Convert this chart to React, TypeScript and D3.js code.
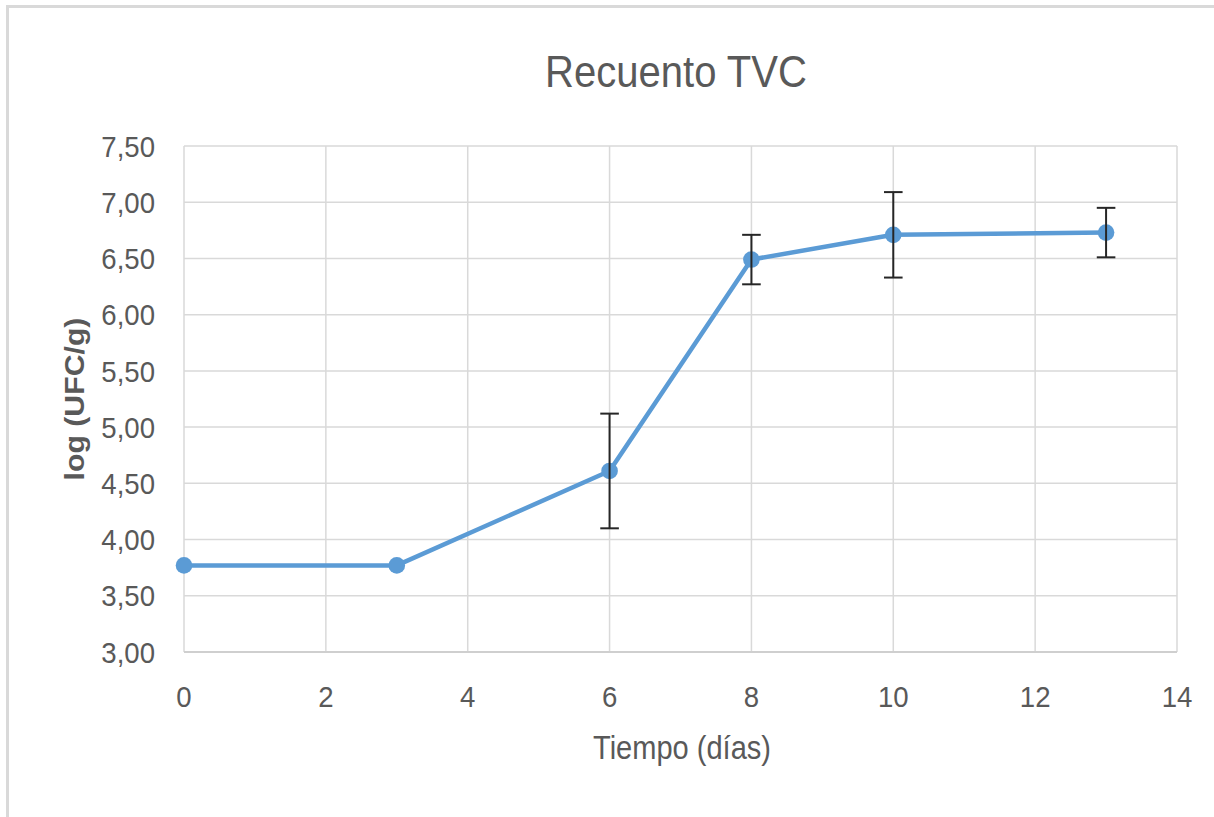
import { useRef, useEffect } from "react";
import * as d3 from "d3";

// Recuento TVC: log (UFC/g) vs days
const days = [0, 3, 6, 8, 10, 13];
const logUfc = [3.77, 3.77, 4.61, 6.49, 6.71, 6.73];
const errUfc = [0, 0, 0.51, 0.22, 0.38, 0.22];
const xTicks = [0, 2, 4, 6, 8, 10, 12, 14];
const yTicks = [3.0, 3.5, 4.0, 4.5, 5.0, 5.5, 6.0, 6.5, 7.0, 7.5];

const FONT = '"Liberation Sans", Arial, sans-serif';
const GREY_TEXT = "#595959";
const LINE_BLUE = "#5b9bd5";

export default function App() {
  const svgRef = useRef<SVGSVGElement>(null);

  useEffect(() => {
    if (!svgRef.current) return;
    const svg = d3.select(svgRef.current);
    svg.selectAll("*").remove();

    const width = 1214;
    const height = 817;
    const plot = { left: 184, right: 1177, top: 146, bottom: 652 };

    const x = d3.scaleLinear().domain([0, 14]).range([plot.left, plot.right]);
    const y = d3.scaleLinear().domain([3, 7.5]).range([plot.bottom, plot.top]);

    svg.attr("viewBox", `0 0 ${width} ${height}`);

    svg
      .append("rect")
      .attr("width", width)
      .attr("height", height)
      .attr("fill", "#fff");

    // outer chart frame (runs off the right / bottom edges)
    svg
      .append("rect")
      .attr("x", 7.5)
      .attr("y", 6.5)
      .attr("width", width + 20)
      .attr("height", height + 20)
      .attr("fill", "none")
      .attr("stroke", "#d9d9d9")
      .attr("stroke-width", 3);

    // grid
    const grid = svg.append("g");
    grid
      .selectAll("line.h")
      .data(yTicks)
      .join("line")
      .attr("class", "h")
      .attr("x1", plot.left)
      .attr("x2", plot.right)
      .attr("y1", (d) => y(d))
      .attr("y2", (d) => y(d))
      .attr("stroke", "#d9d9d9")
      .attr("stroke-width", 1.5);
    grid
      .selectAll("line.v")
      .data(xTicks)
      .join("line")
      .attr("class", "v")
      .attr("x1", (d) => x(d))
      .attr("x2", (d) => x(d))
      .attr("y1", plot.top)
      .attr("y2", plot.bottom)
      .attr("stroke", "#d9d9d9")
      .attr("stroke-width", 1.5);

    // horizontal axis line
    svg
      .append("line")
      .attr("x1", plot.left)
      .attr("x2", plot.right)
      .attr("y1", plot.bottom)
      .attr("y2", plot.bottom)
      .attr("stroke", "#cfcfcf")
      .attr("stroke-width", 2);

    // tick labels (slightly condensed to match the source)
    svg
      .append("g")
      .selectAll("text")
      .data(yTicks)
      .join("text")
      .attr("transform", (d) => `translate(155,${y(d) + 10.7}) scale(0.92,1)`)
      .attr("text-anchor", "end")
      .style("font-family", FONT)
      .style("font-size", "30px")
      .style("fill", GREY_TEXT)
      .text((d) => d3.format(".2f")(d).replace(".", ","));

    svg
      .append("g")
      .selectAll("text")
      .data(xTicks)
      .join("text")
      .attr("transform", (d) => `translate(${x(d)},707) scale(0.92,1)`)
      .attr("text-anchor", "middle")
      .style("font-family", FONT)
      .style("font-size", "30px")
      .style("fill", GREY_TEXT)
      .text((d) => String(d));

    // titles
    svg
      .append("text")
      .attr("transform", "translate(676,86.5) scale(0.91,1)")
      .attr("text-anchor", "middle")
      .style("font-family", FONT)
      .style("font-size", "44px")
      .style("fill", GREY_TEXT)
      .text("Recuento TVC");

    svg
      .append("text")
      .attr("transform", "translate(682,759) scale(0.88,1)")
      .attr("text-anchor", "middle")
      .style("font-family", FONT)
      .style("font-size", "33px")
      .style("fill", GREY_TEXT)
      .text("Tiempo (días)");

    svg
      .append("text")
      .attr("transform", "translate(84,399) rotate(-90) scale(1.12,1)")
      .attr("text-anchor", "middle")
      .style("font-family", FONT)
      .style("font-size", "27px")
      .style("font-weight", "bold")
      .style("fill", GREY_TEXT)
      .text("log (UFC/g)");

    const pts = days.map((d, i) => ({ day: d, v: logUfc[i], e: errUfc[i] }));

    // series line
    const line = d3
      .line<{ day: number; v: number }>()
      .x((d) => x(d.day))
      .y((d) => y(d.v));
    svg
      .append("path")
      .datum(pts)
      .attr("d", line)
      .attr("fill", "none")
      .attr("stroke", LINE_BLUE)
      .attr("stroke-width", 4.5)
      .attr("stroke-linejoin", "round");

    // markers
    svg
      .append("g")
      .selectAll("circle")
      .data(pts)
      .join("circle")
      .attr("cx", (d) => x(d.day))
      .attr("cy", (d) => y(d.v))
      .attr("r", 8.3)
      .attr("fill", LINE_BLUE);

    // error bars
    const eb = svg
      .append("g")
      .selectAll("g")
      .data(pts.filter((p) => p.e > 0))
      .join("g")
      .attr("stroke", "#262626")
      .attr("stroke-width", 2);
    eb.append("line")
      .attr("x1", (d) => x(d.day))
      .attr("x2", (d) => x(d.day))
      .attr("y1", (d) => y(d.v + d.e))
      .attr("y2", (d) => y(d.v - d.e));
    eb.append("line")
      .attr("x1", (d) => x(d.day) - 9.3)
      .attr("x2", (d) => x(d.day) + 9.3)
      .attr("y1", (d) => y(d.v + d.e))
      .attr("y2", (d) => y(d.v + d.e));
    eb.append("line")
      .attr("x1", (d) => x(d.day) - 9.3)
      .attr("x2", (d) => x(d.day) + 9.3)
      .attr("y1", (d) => y(d.v - d.e))
      .attr("y2", (d) => y(d.v - d.e));

    return () => {
      svg.selectAll("*").remove();
    };
  }, []);

  return (
    <svg
      ref={svgRef}
      width={1214}
      height={817}
      style={{ position: "absolute", left: 0, top: 0, display: "block" }}
    />
  );
}
